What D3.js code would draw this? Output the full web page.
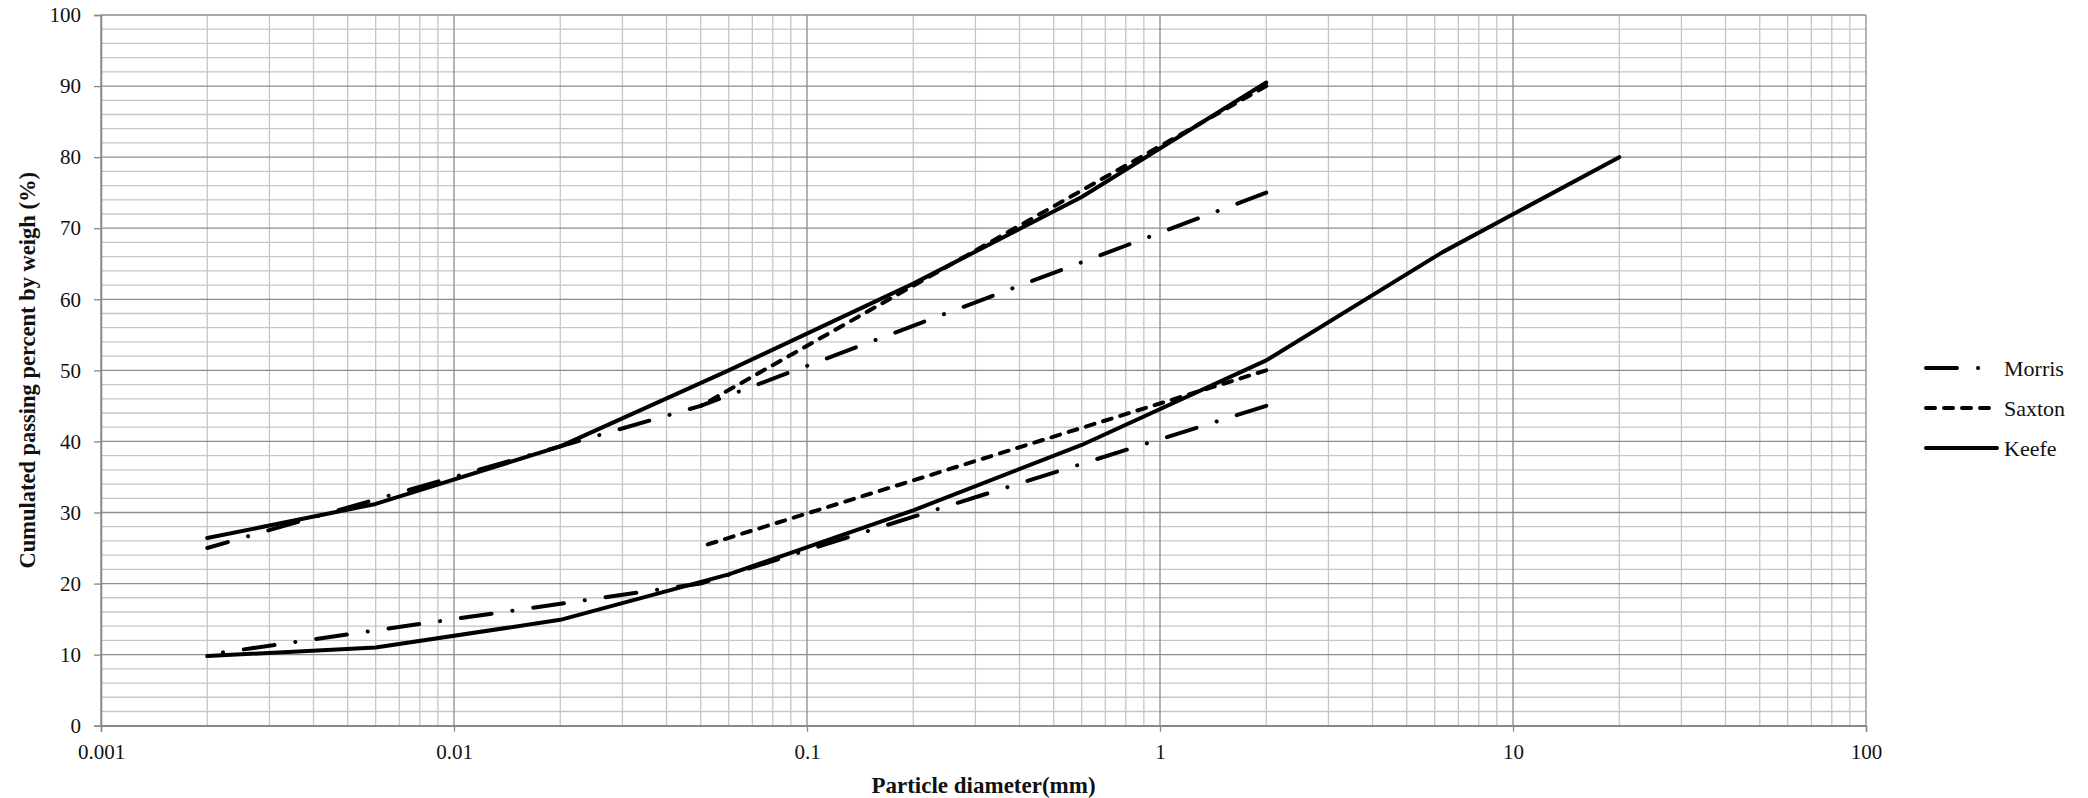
<!DOCTYPE html>
<html>
<head>
<meta charset="utf-8">
<script src="https://cdn.jsdelivr.net/npm/d3@7"></script>
<style>
  html, body { margin: 0; padding: 0; background: #fff; }
  svg { display: block; font-family: "Liberation Serif", "DejaVu Serif", serif; }
</style>
</head>
<body>
<div id="chart"></div>
<script>
// particle diameters (mm) and cumulated passing (%) for two soils per method
const morrisD = [0.002, 0.05, 2];
const morrisUpper = [25, 45, 75];
const morrisLower = [10, 20, 45];

const saxtonD = [0.05, 2];
const saxtonUpper = [45, 90];
const saxtonLower = [25.2, 50];

const keefeD1 = [0.002, 0.006, 0.02, 0.06, 0.2, 0.6, 2];
const keefeUpper = [26.4, 31.2, 39.3, 50, 62.2, 74.4, 90.5];
const keefeD2 = [0.002, 0.006, 0.02, 0.06, 0.2, 0.6, 2, 6.3, 20];
const keefeLower = [9.8, 11, 14.9, 21.3, 30.3, 39.5, 51.4, 66.6, 80];

const xMajor = [0.001, 0.01, 0.1, 1, 10, 100];
const yMajor = [0, 10, 20, 30, 40, 50, 60, 70, 80, 90, 100];

const width = 2088;
const height = 798;
const margin = { left: 101, right: 222, top: 15, bottom: 72.3 };

const zip = (xs, ys) => xs.map((x, i) => [x, ys[i]]);

const series = [
  { name: "Morris", dash: [31, 21, 0.1, 21], parts: [zip(morrisD, morrisUpper), zip(morrisD, morrisLower)] },
  { name: "Saxton", dash: [9, 9], parts: [zip(saxtonD, saxtonUpper), zip(saxtonD, saxtonLower)] },
  { name: "Keefe", dash: null, parts: [zip(keefeD1, keefeUpper), zip(keefeD2, keefeLower)] },
];

const svg = d3
  .select("#chart")
  .append("svg")
  .attr("width", width)
  .attr("height", height);

const x = d3
  .scaleLog()
  .domain([0.001, 100])
  .range([margin.left, width - margin.right]);

const y = d3
  .scaleLinear()
  .domain([0, 100])
  .range([height - margin.bottom, margin.top]);

// minor grid values
const xMinor = [];
xMajor.slice(0, -1).forEach((m) => {
  for (let k = 2; k <= 9; k++) xMinor.push(m * k);
});
const yMinor = d3.range(2, 100, 2).filter((v) => v % 10 !== 0);

const grid = svg.append("g");

const vLines = (vals, color) =>
  grid
    .append("g")
    .selectAll("line")
    .data(vals)
    .enter()
    .append("line")
    .attr("x1", (d) => x(d))
    .attr("x2", (d) => x(d))
    .attr("y1", y(0))
    .attr("y2", y(100))
    .attr("stroke", color)
    .attr("stroke-width", 1.3);

const hLines = (vals, color) =>
  grid
    .append("g")
    .selectAll("line")
    .data(vals)
    .enter()
    .append("line")
    .attr("x1", x.range()[0])
    .attr("x2", x.range()[1])
    .attr("y1", (d) => y(d))
    .attr("y2", (d) => y(d))
    .attr("stroke", color)
    .attr("stroke-width", 1.3);

vLines(xMinor, "#c6c6c6");
hLines(yMinor, "#c6c6c6");
vLines(xMajor, "#8c8c8c");
hLines(yMajor, "#8c8c8c");

// axes
const xAxis = d3
  .axisBottom(x)
  .tickValues(xMajor)
  .tickFormat((d) => String(d))
  .tickSize(6)
  .tickPadding(12.5);

const yAxis = d3
  .axisLeft(y)
  .tickValues(yMajor)
  .tickFormat((d) => String(d))
  .tickSize(7)
  .tickPadding(13);

const styleAxis = (g) => {
  g.select(".domain").attr("stroke", "#868686").attr("stroke-width", 1.5);
  g.selectAll(".tick line").attr("stroke", "#868686").attr("stroke-width", 1.3);
  g.selectAll(".tick text")
    .attr("fill", "#111")
    .style("font-family", "Liberation Serif, serif")
    .style("font-size", "21px");
};

svg
  .append("g")
  .attr("transform", `translate(0,${y(0)})`)
  .call(xAxis)
  .call(styleAxis);

svg
  .append("g")
  .attr("transform", `translate(${x.range()[0]},0)`)
  .call(yAxis)
  .call(styleAxis);

// lines
const line = d3
  .line()
  .x((d) => x(d[0]))
  .y((d) => y(d[1]));

series.forEach((s) => {
  svg
    .append("g")
    .selectAll("path")
    .data(s.parts)
    .enter()
    .append("path")
    .attr("d", line)
    .attr("fill", "none")
    .attr("stroke", "#000")
    .attr("stroke-width", 4)
    .attr("stroke-linecap", "round")
    .attr("stroke-linejoin", "round")
    .attr("stroke-dasharray", s.dash ? s.dash.join(",") : null)
    .each(function () {
      if (!s.dash) return;
      // line the pattern up so every curve ends on a dash
      const period = d3.sum(s.dash);
      const len = this.getTotalLength();
      const off = (((s.dash[0] - len) % period) + period) % period;
      d3.select(this).attr("stroke-dashoffset", off);
    });
});

// axis titles
svg
  .append("text")
  .attr("x", (x.range()[0] + x.range()[1]) / 2)
  .attr("y", 793)
  .attr("text-anchor", "middle")
  .style("font-size", "23px")
  .style("font-weight", "bold")
  .attr("fill", "#111")
  .text("Particle diameter(mm)");

svg
  .append("text")
  .attr("transform", `translate(27,${(y(0) + y(100)) / 2}) rotate(-90)`)
  .attr("dy", "0.35em")
  .attr("text-anchor", "middle")
  .style("font-size", "22.5px")
  .style("font-weight", "bold")
  .attr("fill", "#111")
  .text("Cumulated passing percent by weigh (%)");

// legend
const legend = svg
  .append("g")
  .selectAll("g")
  .data(series)
  .enter()
  .append("g")
  .attr("transform", (_, i) => `translate(1926,${368 + i * 40})`);

legend
  .append("line")
  .attr("x1", 0)
  .attr("x2", 71)
  .attr("stroke", "#000")
  .attr("stroke-width", 4)
  .attr("stroke-linecap", "round")
  .attr("stroke-dasharray", (d) => (d.dash ? d.dash.join(",") : null));

legend
  .append("text")
  .attr("x", 78)
  .attr("dy", "0.35em")
  .style("font-size", "22px")
  .attr("fill", "#111")
  .text((d) => d.name);
</script>
</body>
</html>
